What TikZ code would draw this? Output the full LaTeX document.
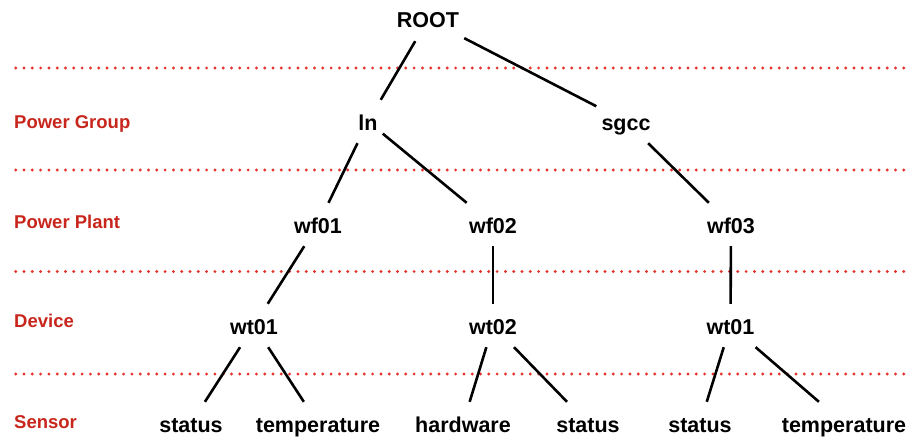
\documentclass[tikz,border=0pt]{standalone}
\usepackage{fontspec}
\setmainfont{Liberation Sans}
\definecolor{lblred}{RGB}{200,38,28}
\definecolor{dotred}{RGB}{230,50,45}
\begin{document}
\begin{tikzpicture}[x=1pt,y=-1pt,
  tn/.style={font=\fontsize{21.5}{24}\selectfont\bfseries, text height=17pt, text depth=0pt,
             inner ysep=13pt, inner xsep=5pt, anchor=base},
  lvl/.style={font=\fontsize{18.5}{21}\selectfont\bfseries, text=lblred, anchor=base west, inner sep=0pt},
  sep/.style={dotred, line width=3.2pt, line cap=round, dash pattern=on 0pt off 8.3pt},
  edge/.style={line width=2.6pt, black}]
\useasboundingbox (0,0) rectangle (912,436);
% level separators
\coordinate (s1a) at (15.7,68); \coordinate (s1b) at (908,68);
\coordinate (s2a) at (15.7,170); \coordinate (s2b) at (908,170);
\coordinate (s3a) at (15.7,271.5); \coordinate (s3b) at (908,271.5);
\coordinate (s4a) at (15.7,374); \coordinate (s4b) at (908,374);
\draw[sep] (s1a) -- (s1b);
\draw[sep] (s2a) -- (s2b);
\draw[sep] (s3a) -- (s3b);
\draw[sep] (s4a) -- (s4b);
% level labels
\node[lvl] (lg) at (14,128.5) {Power Group};
\node[lvl] (lp) at (14,228) {Power Plant};
\node[lvl] (ld) at (14,327) {Device};
\node[lvl] (ls) at (14,428) {Sensor};
% tree nodes
\node[tn] (root) at (428,28) {ROOT};
\node[tn] (ln) at (368,130) {ln};
\node[tn] (sgcc) at (626,130) {sgcc};
\node[tn] (wf01) at (318,233) {wf01};
\node[tn] (wf02) at (493,233) {wf02};
\node[tn] (wf03) at (731,233) {wf03};
\node[tn] (wt01) at (254,334) {wt01};
\node[tn] (wt02) at (493,334) {wt02};
\node[tn] (wt01r) at (730.5,334) {wt01};
\node[tn] (s1) at (191,432) {status};
\node[tn] (t1) at (318,432) {temperature};
\node[tn] (h2) at (463,432) {hardware};
\node[tn] (s2) at (588,432) {status};
\node[tn] (s3) at (700,432) {status};
\node[tn] (t3) at (844,432) {temperature};
% edges
\draw[edge] (root) -- (ln);
\draw[edge] (root) -- (sgcc);
\draw[edge] (ln) -- (wf01);
\draw[edge] (ln) -- (wf02);
\draw[edge] (sgcc) -- (wf03);
\draw[edge] (wf01) -- (wt01);
\draw[edge] (wf02) -- (wt02);
\draw[edge] (wf03) -- (wt01r);
\draw[edge] (wt01) -- (s1);
\draw[edge] (wt01) -- (t1);
\draw[edge] (wt02) -- (h2);
\draw[edge] (wt02) -- (s2);
\draw[edge] (wt01r) -- (s3);
\draw[edge] (wt01r) -- (t3);
\end{tikzpicture}
\end{document}
